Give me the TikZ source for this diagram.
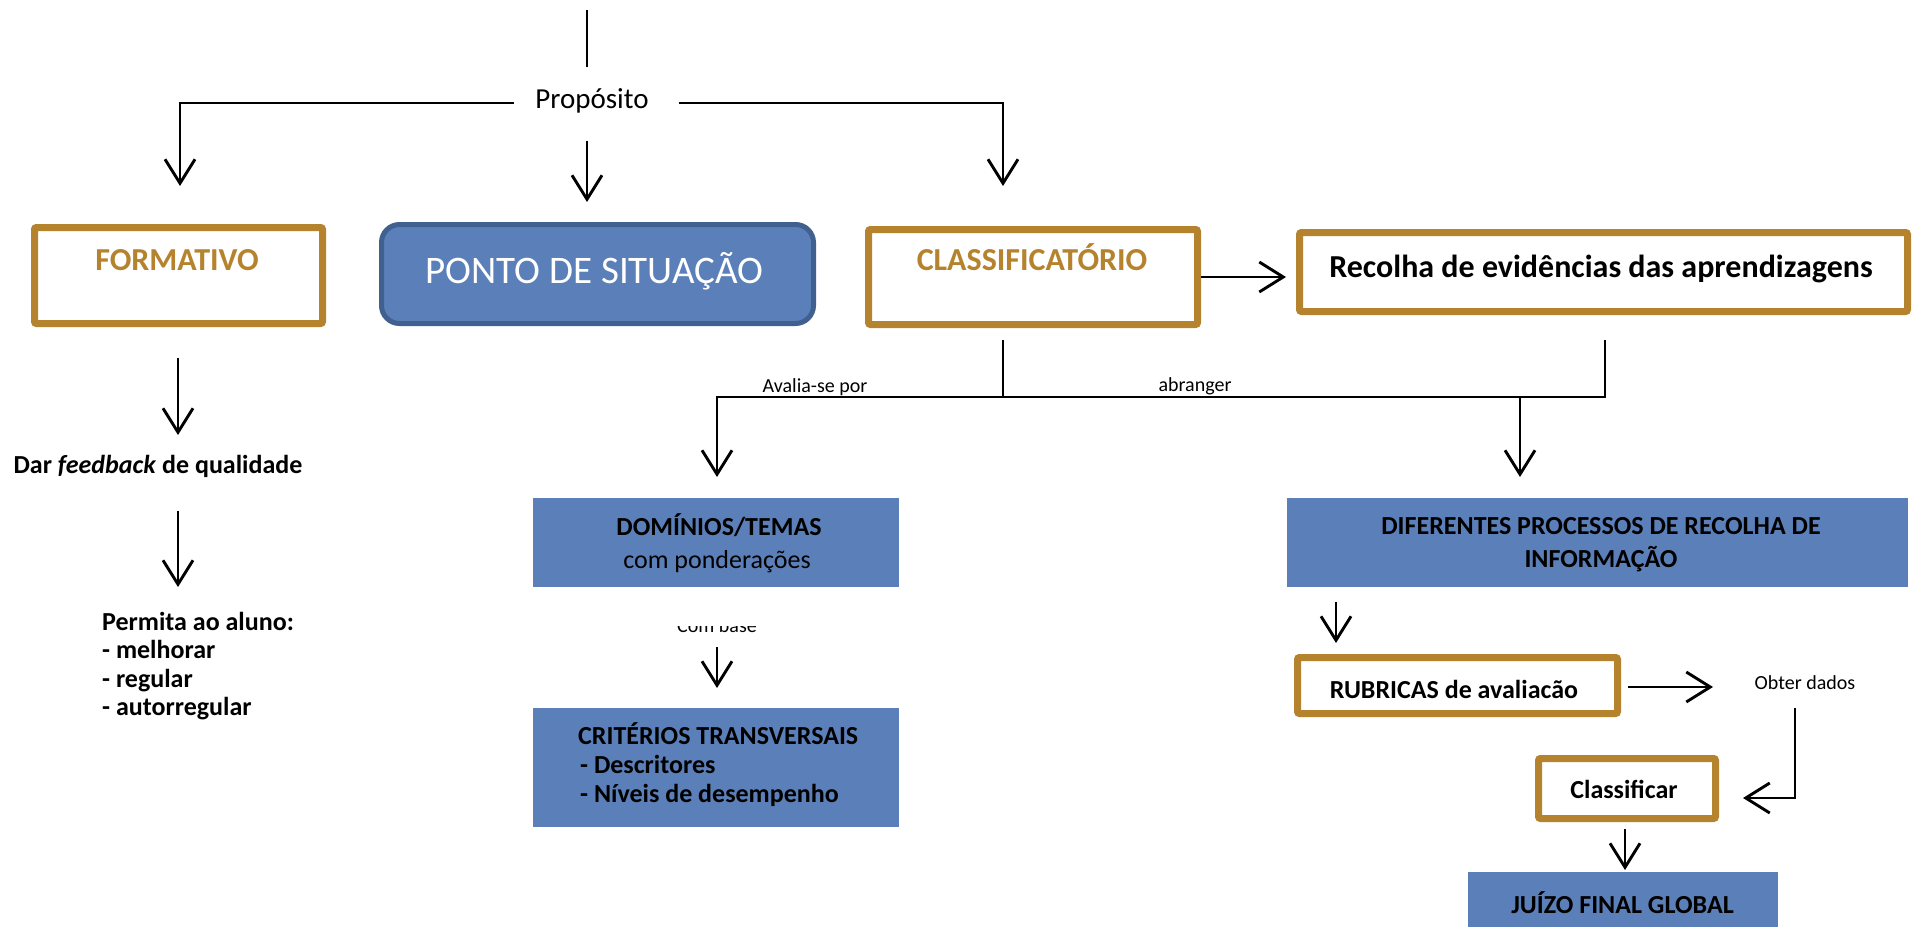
\documentclass[tikz,border=0pt]{standalone}
\usepackage{fontspec}
\setmainfont{Carlito}
\usetikzlibrary{arrows.meta,calc}
\definecolor{gold}{HTML}{B5832D}
\definecolor{boxblue}{HTML}{5B7FB8}
\definecolor{darkblue}{HTML}{40608F}
\begin{document}
\begin{tikzpicture}[x=1pt,y=-1pt,
  ln/.style={line width=2.9pt},
  arr/.style={line width=2.9pt,-{Straight Barb[length=24pt,width=30pt]}},
  goldbox/.style={draw=gold,line width=7pt,rounded corners=2pt,fill=white,inner sep=0pt},
  bluebox/.style={fill=boxblue,inner sep=0pt},
  tsmall/.style={anchor=base,inner sep=0pt,font=\fontsize{20}{24}\selectfont},
  tbody/.style={anchor=base,inner sep=0pt,font=\fontsize{26}{30}\selectfont\bfseries},
  tbodyr/.style={anchor=base,inner sep=0pt,font=\fontsize{26}{30}\selectfont},
  tgold/.style={anchor=base,inner sep=0pt,text=gold,font=\fontsize{32}{36}\selectfont\bfseries},
  tbig/.style={anchor=base,inner sep=0pt,font=\fontsize{32}{36}\selectfont\bfseries}
]
\clip (0,0) rectangle (1918,926);
\fill[white] (0,0) rectangle (1918,926);

% ---- top: Propósito ----
\node[anchor=base,inner sep=0pt,font=\fontsize{29}{34}\selectfont] (prop) at (592,108) {Propósito};
\coordinate (top1) at (587,10);
\coordinate (top2) at (587,67);
\draw[ln] (top1) -- (top2);
\coordinate (pl) at (514,103);
\coordinate (pr) at (679,103);
\coordinate (fa) at (180,186);
\coordinate (ca) at (1003,186);
\draw[arr] (pl) -| (fa);
\draw[arr] (pr) -| (ca);
\coordinate (m1) at (587,141);
\coordinate (m2) at (587,202);
\draw[arr] (m1) -- (m2);

% ---- first row of boxes ----
\node[goldbox,minimum width=288,minimum height=96] (form) at (178.5,275.5) {};
\node[tgold] (formt) at (177,270) {FORMATIVO};

\node[draw=darkblue,fill=boxblue,line width=5pt,rounded corners=18pt,
      minimum width=432,minimum height=99,inner sep=0pt] (ponto) at (597.5,274) {};
\node[anchor=base,inner sep=0pt,text=white,font=\fontsize{39}{43}\selectfont] (pontot) at (594.5,283) {PONTO DE SITUAÇÃO};

\node[goldbox,minimum width=329,minimum height=95] (class) at (1033,277) {};
\node[tgold] (classt) at (1032,270) {CLASSIFICATÓRIO};

\node[goldbox,minimum width=608,minimum height=79] (rec) at (1603.5,272) {};
\node[tbig] (rect) at (1601,277) {Recolha de evidências das aprendizagens};

\draw[arr,shorten >=10pt] (class.east) -- (class.east -| rec.west);

% ---- branching under CLASSIFICATÓRIO / Recolha ----
\coordinate (c1) at (1003,340);
\coordinate (c2) at (1003,397);
\coordinate (r1) at (1605,340);
\coordinate (r2) at (1605,397);
\coordinate (hl) at (717,397);
\coordinate (da) at (717,477);
\draw[ln] (c1) -- (c2);
\draw[arr] (r1) -- (r2) -- (hl) -- (da);
\coordinate (ab1) at (1520,397);
\coordinate (ab2) at (1520,477);
\draw[arr] (ab1) -- (ab2);
\node[tsmall] (avl) at (815,392) {Avalia-se por};
\node[tsmall] (abr) at (1195,391) {abranger};

% ---- left column ----
\coordinate (f1) at (178,358);
\coordinate (f2) at (178,435);
\draw[arr] (f1) -- (f2);
\node[tbody] (dar) at (158,473) {Dar \textit{feedback} de qualidade};
\coordinate (f3) at (178,511);
\coordinate (f4) at (178,587);
\draw[arr] (f3) -- (f4);
\node[tbody,anchor=base west] (p1) at (102,630) {Permita ao aluno:};
\node[tbody,anchor=base west] (p2) at (102,658.5) {- melhorar};
\node[tbody,anchor=base west] (p3) at (102,687) {- regular};
\node[tbody,anchor=base west] (p4) at (102,715.5) {- autorregular};

% ---- middle column ----
\node[bluebox,minimum width=366,minimum height=89] (dom) at (716,542.5) {};
\node[tbody] (domt1) at (719,535) {DOMÍNIOS/TEMAS};
\node[tbodyr] (domt2) at (717,568) {com ponderações};
\begin{scope}
  \clip (640,626) rectangle (800,640);
  \node[tsmall] (cb) at (717,632) {Com base};
\end{scope}
\coordinate (d1) at (717,647);
\coordinate (d2) at (717,688);
\draw[arr] (d1) -- (d2);
\node[bluebox,minimum width=366,minimum height=119] (crit) at (716,767.5) {};
\node[tbody,anchor=base west] (crt1) at (578,744) {CRITÉRIOS TRANSVERSAIS};
\node[tbody,anchor=base west] (crt2) at (580,773) {- Descritores};
\node[tbody,anchor=base west] (crt3) at (580,802) {- Níveis de desempenho};

% ---- right column ----
\node[bluebox,minimum width=621,minimum height=89] (dif) at (1597.5,542.5) {};
\node[tbody] (dift1) at (1601,534) {DIFERENTES PROCESSOS DE RECOLHA DE};
\node[tbody] (dift2) at (1601,567) {INFORMAÇÃO};
\coordinate (g1) at (1336,602);
\coordinate (g2) at (1336,643);
\draw[arr] (g1) -- (g2);
\node[goldbox,minimum width=320,minimum height=56] (rub) at (1457.5,685.5) {};
\node[tbody] (rubt) at (1454,698) {RUBRICAS de avaliacão};
\coordinate (o1) at (1713,687);
\draw[arr] (rub.east |- o1) ++(7,0) -- (o1);
\node[tsmall] (obt) at (1805,689) {Obter dados};
\coordinate (v1) at (1795,708);
\coordinate (v2) at (1795,798);
\coordinate (v3) at (1743,798);
\draw[arr] (v1) -- (v2) -- (v3);
\node[goldbox,minimum width=177,minimum height=60] (cls) at (1627,788.5) {};
\node[tbody] (clst) at (1624,798) {Classificar};
\coordinate (k1) at (1625,829);
\coordinate (k2) at (1625,870);
\draw[arr] (k1) -- (k2);
\node[bluebox,minimum width=310,minimum height=90] (juizo) at (1623,917) {};
\node[tbody] (juizot) at (1622.5,913) {JUÍZO FINAL GLOBAL};
\end{tikzpicture}
\end{document}
